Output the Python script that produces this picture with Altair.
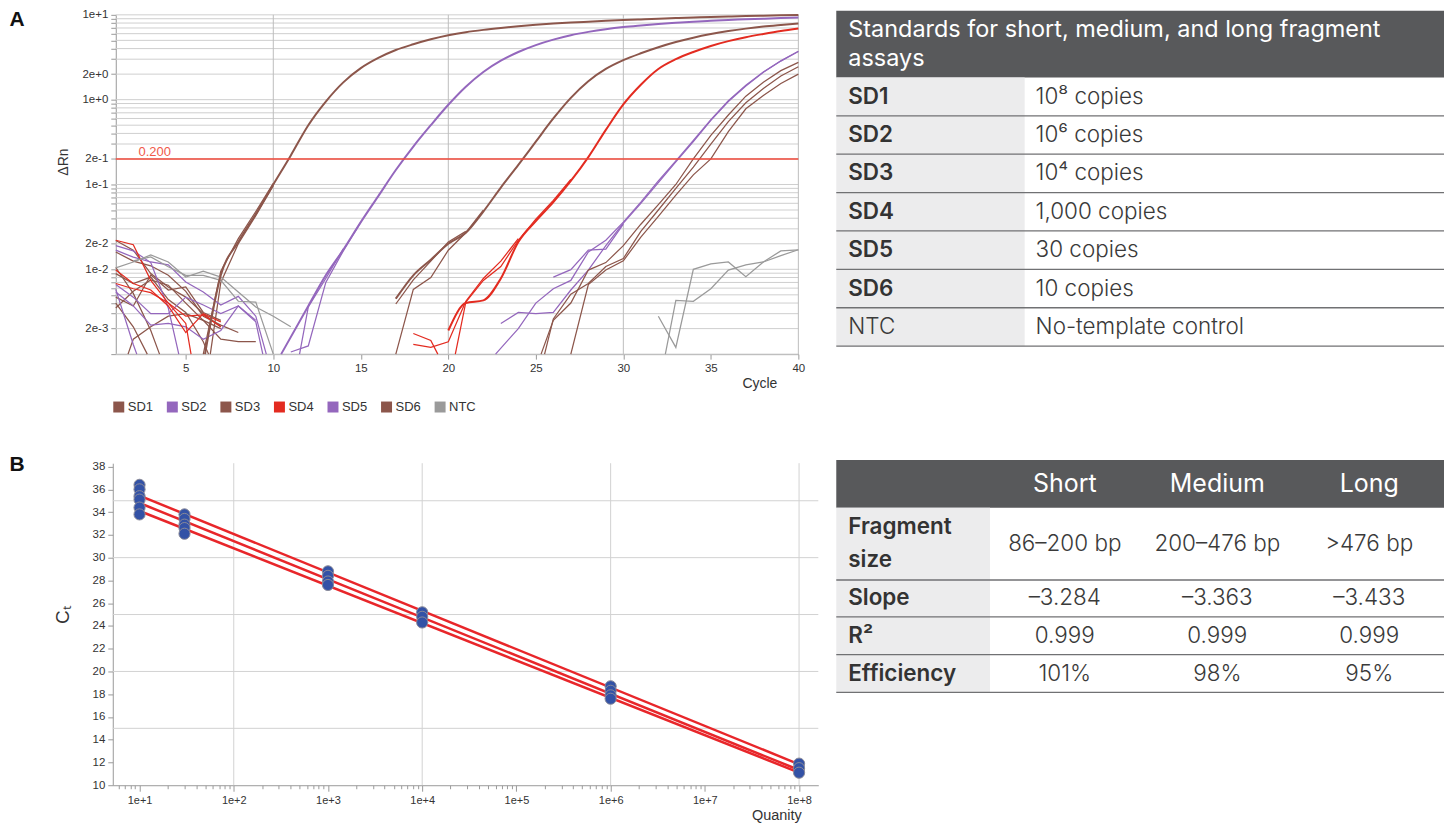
import altair as alt
import pandas as pd

W, H = 1440, 817
FONT = "Liberation Sans"
TFONT = "Inter"

# ------------------------------------------------------------------ data
SERIES = ["SD1", "SD2", "SD3", "SD4", "SD5", "SD6", "NTC"]
SERIES_COLORS = ["#8c564b", "#9467bd", "#8c564b", "#e32b20", "#9467bd", "#8c564b", "#9a9a9a"]
THRESHOLD = 0.2

# amplification curves, (cycle, delta Rn)
SD1_MAIN = [(6.1, 0.001), (7, 0.0085), (8, 0.021), (9, 0.045), (10, 0.1), (11, 0.22), (12, 0.5),
            (13, 0.95), (14, 1.6), (15, 2.35), (16, 3.1), (17, 3.85), (18, 4.5), (19, 5.15), (20, 5.75),
            (21, 6.25), (22, 6.65), (23, 7.0), (24, 7.32), (25, 7.62), (26, 7.88), (27, 8.1), (28, 8.3),
            (29, 8.5), (30, 8.68), (31, 8.84), (32, 9.0), (33, 9.15), (34, 9.3), (35, 9.44), (36, 9.56),
            (37, 9.67), (38, 9.77), (39, 9.87), (40, 9.95)]
SD1_B = [(6.0, 0.001), (7, 0.0095), (8, 0.023), (9, 0.048), (10, 0.103)]
SD1_C = [(6.4, 0.001), (7, 0.007), (8, 0.02), (9, 0.043), (10, 0.097)]
SD2_MAIN = [(10.45, 0.001), (12, 0.0037), (13, 0.0085), (14, 0.017), (15, 0.036), (16, 0.073), (17, 0.148),
            (18, 0.28), (19, 0.5), (20, 0.87), (21, 1.42), (22, 2.12), (23, 2.88), (24, 3.65), (25, 4.4),
            (26, 5.1), (27, 5.75), (28, 6.3), (29, 6.78), (30, 7.18), (31, 7.5), (32, 7.8), (33, 8.05),
            (34, 8.3), (35, 8.5), (36, 8.7), (37, 8.85), (38, 9.0), (39, 9.15), (40, 9.3)]
SD2_B = [(11.0, 0.00106), (12, 0.00125), (13, 0.007), (14, 0.0165), (15, 0.036)]
SD2_C = [(11.5, 0.001), (12, 0.0036), (13, 0.0078), (14, 0.0175)]
SD3_MAIN = [(17, 0.0045), (18, 0.0085), (19, 0.013), (20, 0.02), (21, 0.027), (22, 0.048), (23, 0.092),
            (24, 0.17), (25, 0.32), (26, 0.6), (27, 1.05), (28, 1.65), (29, 2.3), (30, 2.92), (31, 3.52),
            (32, 4.15), (33, 4.78), (34, 5.38), (35, 5.93), (36, 6.43), (37, 6.88), (38, 7.28), (39, 7.6), (40, 7.9)]
SD3_B = [(17, 0.0039), (18, 0.0075), (19, 0.0125), (20, 0.021), (21, 0.028)]
SD3_C = [(17, 0.001), (18, 0.0058), (19, 0.008), (20, 0.0168), (21, 0.027), (22, 0.05)]
SD4_MAIN = [(20, 0.0019), (21, 0.004), (22, 0.0043), (23, 0.0078), (24, 0.021), (25, 0.037), (26, 0.062),
            (27, 0.11), (28, 0.21), (29, 0.44), (30, 0.88), (31, 1.5), (32, 2.3), (33, 3.0), (34, 3.65),
            (35, 4.3), (36, 4.9), (37, 5.45), (38, 5.95), (39, 6.45), (40, 6.9)]
SD4_B = [(20.4, 0.001), (21, 0.0041), (22, 0.0074), (23, 0.0108), (24, 0.022), (25, 0.039), (26, 0.065), (27, 0.115)]
SD4_C = [(18, 0.0013), (19, 0.0012), (20, 0.0014), (21, 0.0042), (22, 0.0078), (23, 0.0125), (24, 0.023)]
SD4_D = [(18, 0.00175), (19, 0.00145), (19.4, 0.001)]
SD5_MAIN = [(23, 0.0023), (24, 0.0031), (25, 0.003), (26, 0.0031), (27, 0.0057), (28, 0.0098), (29, 0.019),
            (30, 0.035), (31, 0.06), (32, 0.105), (33, 0.185), (34, 0.32), (35, 0.57), (36, 0.95),
            (37, 1.45), (38, 2.1), (39, 2.85), (40, 3.7)]
SD5_B = [(22.7, 0.001), (24, 0.002), (25, 0.004), (26, 0.0059), (27, 0.0074), (28, 0.016), (29, 0.022),
         (30, 0.036), (31, 0.062), (32, 0.11), (33, 0.19), (34, 0.33), (35, 0.58), (36, 0.97), (37, 1.48),
         (38, 2.12), (39, 2.88), (40, 3.72)]
SD5_C = [(26, 0.0081), (27, 0.0099), (28, 0.0168), (29, 0.0173), (30, 0.034)]
SD6_A = [(25.3, 0.001), (26, 0.0025), (27, 0.004), (28, 0.0098), (29, 0.012), (30, 0.019), (31, 0.034),
         (32, 0.058), (33, 0.1), (34, 0.2), (35, 0.38), (36, 0.66), (37, 1.1), (38, 1.6), (39, 2.2), (40, 2.75)]
SD6_B = [(25.5, 0.001), (26, 0.0026), (27, 0.0051), (28, 0.0068), (29, 0.0108), (30, 0.0134), (31, 0.028),
         (32, 0.05), (33, 0.09), (34, 0.16), (35, 0.3), (36, 0.55), (37, 0.92), (38, 1.35), (39, 1.9), (40, 2.44)]
SD6_C = [(27, 0.001), (28, 0.0066), (29, 0.0098), (30, 0.0126), (31, 0.024), (32, 0.042), (33, 0.075),
         (34, 0.13), (35, 0.2), (36, 0.42), (37, 0.78), (38, 1.12), (39, 1.55), (40, 2.0)]
NTC_A = [(32, 0.0028), (33, 0.0012), (34, 0.01), (35, 0.0116), (36, 0.0122), (37, 0.0082), (38, 0.0122),
         (39, 0.0165), (40, 0.017)]
NTC_B = [(32.4, 0.001), (33, 0.0043), (34, 0.0042), (35, 0.0059), (36, 0.0098), (37, 0.0113), (38, 0.0122),
         (39, 0.0145), (40, 0.017)]

# baseline noise, early cycles
SD1_BASE1 = [(1, 0.0219), (2, 0.0168), (3, 0.0089), (4, 0.0062), (5, 0.0047), (6, 0.003), (7, 0.0021)]
SD1_BASE2 = [(1, 0.0105), (2, 0.0052), (3, 0.0019), (3.5, 0.001)]
SD1_BASE3 = [(1, 0.0035), (2, 0.0055), (3, 0.0075), (4, 0.0065), (5, 0.004), (6, 0.0025), (7, 0.002)]
SD3_BASE1 = [(1, 0.0089), (2, 0.0068), (3, 0.0081), (4, 0.0044), (5, 0.0031), (6, 0.0014), (6.3, 0.001)]
SD3_BASE2 = [(1, 0.0047), (2, 0.0037), (3, 0.0086), (4, 0.0057), (5, 0.0062), (6, 0.0031), (7, 0.0025)]
SD6_BASE1 = [(1.7, 0.001), (2, 0.0015), (3, 0.0021), (4, 0.0028), (5, 0.003), (6, 0.0025), (7, 0.0015),
             (8, 0.0014), (9, 0.0014)]
SD6_BASE2 = [(1, 0.016), (2, 0.0125), (3, 0.011), (4, 0.0085), (5, 0.0055), (6, 0.0028), (7, 0.0022), (8, 0.0018)]
SD6_BASE3 = [(1, 0.004), (2, 0.0021), (2.8, 0.001)]
SD2_BASE1 = [(1, 0.0168), (2, 0.0139), (3, 0.0122), (4, 0.0113), (5, 0.0071), (6, 0.0054), (7, 0.0038),
             (8, 0.0048), (9, 0.0028), (9.6, 0.001)]
SD2_BASE2 = [(1, 0.0066), (2, 0.0047), (3, 0.003), (4, 0.003), (5, 0.0047), (6, 0.0038), (7, 0.003),
             (8, 0.0037), (9, 0.0024), (9.4, 0.001)]
SD2_BASE3 = [(1, 0.0058), (2, 0.0013), (2.2, 0.001)]
SD5_BASE1 = [(1, 0.0054), (2, 0.0037), (3, 0.0022), (4, 0.0023), (5, 0.0021), (6, 0.0015), (7, 0.0019),
             (8, 0.0037), (9, 0.0025)]
SD5_BASE2 = [(1, 0.019), (2, 0.0165), (3, 0.012), (4, 0.0035), (4.6, 0.001)]
SD4_BASE1 = [(1, 0.022), (2, 0.0195), (3, 0.0074), (4, 0.004), (5, 0.0023), (5.3, 0.001)]
SD4_BASE2 = [(1, 0.0098), (2, 0.0068), (3, 0.0057), (4, 0.0037), (5, 0.0018), (6, 0.003), (7, 0.0024)]
SD4_BASE3 = [(1, 0.0068), (2, 0.0059), (3, 0.0053), (4, 0.004), (5, 0.0028), (6, 0.0029), (7, 0.0021)]
NTC_BASE1 = [(1, 0.0104), (2, 0.0122), (3, 0.0148), (4, 0.0122), (5, 0.0081), (6, 0.0095), (7, 0.0081),
             (8, 0.0054), (9, 0.0036), (10, 0.0028), (11, 0.0021)]
NTC_BASE2 = [(2, 0.0126), (3, 0.014), (4, 0.0107), (5, 0.0085), (6, 0.0085), (7, 0.0074), (8, 0.0042),
             (9, 0.0041), (10, 0.001)]

MAIN_CURVES = [("SD1", "SD1_MAIN", SD1_MAIN), ("SD2", "SD2_MAIN", SD2_MAIN), ("SD3", "SD3_MAIN", SD3_MAIN),
               ("SD4", "SD4_MAIN", SD4_MAIN)]
THIN_CURVES = [("SD1", "SD1_B", SD1_B), ("SD1", "SD1_C", SD1_C), ("SD2", "SD2_B", SD2_B), ("SD2", "SD2_C", SD2_C),
               ("SD3", "SD3_B", SD3_B), ("SD3", "SD3_C", SD3_C), ("SD4", "SD4_B", SD4_B), ("SD4", "SD4_C", SD4_C),
               ("SD4", "SD4_D", SD4_D), ("SD5", "SD5_MAIN", SD5_MAIN), ("SD5", "SD5_B", SD5_B),
               ("SD5", "SD5_C", SD5_C), ("SD6", "SD6_A", SD6_A), ("SD6", "SD6_B", SD6_B), ("SD6", "SD6_C", SD6_C),
               ("NTC", "NTC_A", NTC_A), ("NTC", "NTC_B", NTC_B),
               ("SD1", "SD1_BASE1", SD1_BASE1), ("SD1", "SD1_BASE2", SD1_BASE2), ("SD1", "SD1_BASE3", SD1_BASE3),
               ("SD3", "SD3_BASE1", SD3_BASE1), ("SD3", "SD3_BASE2", SD3_BASE2),
               ("SD6", "SD6_BASE1", SD6_BASE1), ("SD6", "SD6_BASE2", SD6_BASE2), ("SD6", "SD6_BASE3", SD6_BASE3),
               ("SD2", "SD2_BASE1", SD2_BASE1), ("SD2", "SD2_BASE2", SD2_BASE2), ("SD2", "SD2_BASE3", SD2_BASE3),
               ("SD5", "SD5_BASE1", SD5_BASE1), ("SD5", "SD5_BASE2", SD5_BASE2),
               ("SD4", "SD4_BASE1", SD4_BASE1), ("SD4", "SD4_BASE2", SD4_BASE2), ("SD4", "SD4_BASE3", SD4_BASE3),
               ("NTC", "NTC_BASE1", NTC_BASE1), ("NTC", "NTC_BASE2", NTC_BASE2)]

# standard curve
CT_AT_1E1 = [36.4, 36.0, 35.4, 35.1, 34.4, 33.8]
CT_AT_3E1 = [33.8, 33.4, 32.9, 32.6, 32.1]
CT_AT_1E3 = [28.8, 28.4, 27.9, 27.6]
CT_AT_1E4 = [25.2, 24.8, 24.3]
CT_AT_1E6 = [18.7, 18.3, 17.9, 17.6]
CT_AT_1E8 = [11.9, 11.5, 11.1]
QUANTITIES = [10, 30, 1000, 10000, 1000000, 100000000]
FIT_QTY = [10, 100000000]
FIT_1 = [35.45, 11.84]
FIT_2 = [34.8, 11.34]
FIT_3 = [34.1, 11.11]

# tables
STD_AMOUNTS = ["10\u2078 copies", "10\u2076 copies", "10\u2074 copies", "1,000 copies", "30 copies",
               "10 copies", "No-template control"]
TABLE_A_TITLE = ["Standards for short, medium, and long fragment", "assays"]
ASSAYS = ["Short", "Medium", "Long"]
ROW_NAMES_B = ["Fragment size", "Slope", "R\u00b2", "Efficiency"]
FRAGMENT_SIZE = ["86\u2013200 bp", "200\u2013476 bp", ">476 bp"]
SLOPE = ["\u20133.284", "\u20133.363", "\u20133.433"]
R_SQUARED = ["0.999", "0.999", "0.999"]
EFFICIENCY = ["101%", "98%", "95%"]

# ------------------------------------------------------------------ panel A
XA_SCALE = alt.Scale(type="linear", domain=[1, 40], range=[108, 792], nice=False, zero=False)
YA_SCALE = alt.Scale(type="log", domain=[0.001, 10], range=[346, 6], nice=False)
COLOR_SCALE = alt.Scale(domain=SERIES, range=SERIES_COLORS)

ya_ticks = sorted({round(k * 10.0 ** e, 12) for e in range(-3, 1) for k in range(1, 10)} | {10})
ya_labeled = [10, 2, 1, 0.2, 0.1, 0.02, 0.01, 0.002]
AX_COMMON = dict(labelFont=FONT, titleFont=FONT, labelColor="#333333", titleColor="#333333",
                 tickColor="#9a9a9a", domainColor="#9a9a9a", labelFlush=False, labelOverlap=False,
                 grid=False, titleFontWeight="normal", titleAlign="center", titleBaseline="middle")

XA_AXIS = alt.Axis(orient="bottom", offset=346 - H, values=list(range(5, 41, 5)), format="d", tickSize=5,
                   labelFontSize=11.5, labelPadding=3, title="Cycle", titleX=753, titleY=29.5,
                   titleFontSize=14, **AX_COMMON)
YA_AXIS = alt.Axis(orient="left", offset=-108, values=ya_ticks, format=".0e",
                   labelExpr="indexof(%s, datum.value) >= 0 ? datum.label : ''" % str(ya_labeled),
                   tickSize=5, labelFontSize=11.5, labelPadding=3, title="\u0394Rn", titleX=-52.5,
                   titleY=153, titleAngle=270, titleFontSize=14, **AX_COMMON)


def XA(f):
    return alt.X(f, type="quantitative", scale=XA_SCALE, axis=XA_AXIS)


def YA(f):
    return alt.Y(f, type="quantitative", scale=YA_SCALE, axis=YA_AXIS)


def curve_frame(curves):
    rows = []
    for series, name, pts in curves:
        for c, v in pts:
            rows.append({"series": series, "curve": name, "cycle": c, "drn": v})
    return pd.DataFrame(rows)


grid_a_h = pd.DataFrame({"v": ya_ticks, "x0": 1, "x1": 40})
grid_a_v = pd.DataFrame({"v": [10, 20, 30, 40], "y0": 0.001, "y1": 10})

layer_grid_ah = alt.Chart(grid_a_h).mark_rule(color="#cfcfcf", strokeWidth=1).encode(
    x=XA("x0"), x2="x1", y=YA("v"))
layer_grid_av = alt.Chart(grid_a_v).mark_rule(color="#bdbdbd", strokeWidth=1).encode(
    x=XA("v"), y=YA("y0"), y2="y1")
layer_thin = alt.Chart(curve_frame(THIN_CURVES)).mark_line(strokeWidth=1.25).encode(
    x=XA("cycle"), y=YA("drn"), color=alt.Color("series:N", scale=COLOR_SCALE, legend=None),
    detail="curve:N")
layer_main = alt.Chart(curve_frame(MAIN_CURVES)).mark_line(strokeWidth=2, interpolate="monotone").encode(
    x=XA("cycle"), y=YA("drn"), color=alt.Color("series:N", scale=COLOR_SCALE, legend=None),
    detail="curve:N")
thr_df = pd.DataFrame({"t": [THRESHOLD], "x0": [1], "x1": [40], "lx": [2.3], "label": ["%.3f" % THRESHOLD]})
layer_thr = alt.Chart(thr_df).mark_rule(color="#f0483a", strokeWidth=1.5).encode(
    x=XA("x0"), x2="x1", y=YA("t"))
layer_thr_lab = alt.Chart(thr_df).mark_text(align="left", baseline="middle", dy=-7, color="#f05a4a",
                                            fontSize=13, font=FONT).encode(
    x=XA("lx"), y=YA("t"), text="label")
panel_a = alt.layer(layer_grid_ah, layer_grid_av, layer_thin, layer_main, layer_thr, layer_thr_lab)

# legend for panel A
LEG_SCALE = alt.Scale(type="point", domain=SERIES, range=[111, 433], padding=0)
leg_df = pd.DataFrame({"series": SERIES})
legend_sq = alt.Chart(leg_df).mark_square(size=121, opacity=1).encode(
    x=alt.X("series:N", scale=LEG_SCALE, axis=None), y=alt.value(399),
    color=alt.Color("series:N", scale=COLOR_SCALE, legend=None))
legend_tx = alt.Chart(leg_df).mark_text(align="left", baseline="middle", dx=9, fontSize=13, font=FONT,
                                        color="#333333").encode(
    x=alt.X("series:N", scale=LEG_SCALE, axis=None), y=alt.value(399), text="series:N")
legend_a = alt.layer(legend_sq, legend_tx)

# ------------------------------------------------------------------ panel B
XB_SCALE = alt.Scale(type="log", domain=[5.2, 1.6e8], range=[105, 812], nice=False)
YB_SCALE = alt.Scale(type="linear", domain=[10, 38.3], range=[778, 455.3], nice=False, zero=False)
xb_values = [k * 10 ** e for e in range(0, 9) for k in range(1, 10) if 5.2 <= k * 10 ** e <= 1.6e8]
decade_test = "abs(log(datum.value)/LN10 - round(log(datum.value)/LN10)) < 1e-6"
XB_AXIS = alt.Axis(orient="bottom", offset=778 - H, values=xb_values, format=".0e",
                   labelExpr="%s ? datum.label : ''" % decade_test,
                   tickSize={"condition": {"test": decade_test, "value": 6}, "value": 3.5},
                   labelFontSize=11, labelPadding=3, title="Quanity", titleX=770, titleY=30.5,
                   titleFontSize=14.5, **AX_COMMON)
YB_AXIS = alt.Axis(orient="left", offset=-105, values=list(range(10, 39, 2)), format="d", tickSize=5,
                   labelFontSize=11.5, labelPadding=3, title="C\u209c", titleX=-50, titleY=607,
                   titleAngle=270, titleFontSize=19, **AX_COMMON)


def XB(f):
    return alt.X(f, type="quantitative", scale=XB_SCALE, axis=XB_AXIS)


def YB(f):
    return alt.Y(f, type="quantitative", scale=YB_SCALE, axis=YB_AXIS)


grid_b_h = pd.DataFrame({"v": [15, 20, 25, 30, 35], "x0": 5.2, "x1": 1.6e8})
grid_b_v = pd.DataFrame({"v": [100, 10000, 1000000, 100000000], "y0": 10, "y1": 38.3})
ct_lists = [CT_AT_1E1, CT_AT_3E1, CT_AT_1E3, CT_AT_1E4, CT_AT_1E6, CT_AT_1E8]
pts_df = pd.DataFrame([{"qty": q, "ct": c} for q, cts in zip(QUANTITIES, ct_lists) for c in cts])
fit_df = pd.DataFrame([{"fit": name, "qty": q, "ct": c}
                       for name, vals in [("fit1", FIT_1), ("fit2", FIT_2), ("fit3", FIT_3)]
                       for q, c in zip(FIT_QTY, vals)])

layer_grid_bh = alt.Chart(grid_b_h).mark_rule(color="#d2d2d2", strokeWidth=1).encode(
    x=XB("x0"), x2="x1", y=YB("v"))
layer_grid_bv = alt.Chart(grid_b_v).mark_rule(color="#d2d2d2", strokeWidth=1).encode(
    x=XB("v"), y=YB("y0"), y2="y1")
layer_fit = alt.Chart(fit_df).mark_line(color="#e8262a", strokeWidth=2.5).encode(
    x=XB("qty"), y=YB("ct"), detail="fit:N")
layer_pts = alt.Chart(pts_df).mark_circle(size=125, color="#3352a6", opacity=1, stroke="#8a8a98",
                                          strokeWidth=1).encode(x=XB("qty"), y=YB("ct"))
panel_b = alt.layer(layer_grid_bh, layer_grid_bv, layer_fit, layer_pts)

# ------------------------------------------------------------------ tables
HEAD_BG = "#58595b"
COL_BG = "#ececed"
RULE_C = "#707173"
TXT_C = "#333333"
VAL_C = "#3a3a3a"

# Table A: rows measured in units of one body row
TA_X = alt.Scale(domain=[0, 1], range=[830, 1439])
TA_HEAD = 1.734
n_a = len(SERIES)
TA_Y = alt.Scale(domain=[0, TA_HEAD + n_a], range=[2, 338])


def tax(f):
    return alt.X(f, type="quantitative", scale=TA_X, axis=None)


def tay(f):
    return alt.Y(f, type="quantitative", scale=TA_Y, axis=None)


ta_head = pd.DataFrame({"x0": [0], "x1": [1], "y0": [0], "y1": [TA_HEAD]})
ta_col = pd.DataFrame({"x0": [0], "x1": [0.31], "y0": [TA_HEAD], "y1": [TA_HEAD + n_a]})
ta_rules = pd.DataFrame({"y": [TA_HEAD + i + 1 for i in range(n_a)], "x0": 0, "x1": 1})
ta_title = pd.DataFrame({"text": TABLE_A_TITLE, "y": [0.494, 1.248], "x": 0.0197})
ta_cells = pd.DataFrame({"name": SERIES, "amount": STD_AMOUNTS,
                         "y": [TA_HEAD + i + 0.5 for i in range(n_a)], "x": 0.0197, "x2": 0.328})
ta_bold = ta_cells[ta_cells["name"].str.startswith("SD")]
ta_plain = ta_cells[~ta_cells["name"].str.startswith("SD")]

table_a = alt.layer(
    alt.Chart(ta_head).mark_rect(color=HEAD_BG).encode(x=tax("x0"), x2="x1", y=tay("y0"), y2="y1"),
    alt.Chart(ta_col).mark_rect(color=COL_BG).encode(x=tax("x0"), x2="x1", y=tay("y0"), y2="y1"),
    alt.Chart(ta_rules).mark_rule(color=RULE_C, strokeWidth=1.3).encode(x=tax("x0"), x2="x1", y=tay("y")),
    alt.Chart(ta_title).mark_text(align="left", baseline="middle", color="white", fontSize=23.5,
                                  font=TFONT).encode(x=tax("x"), y=tay("y"), text="text"),
    alt.Chart(ta_bold).mark_text(align="left", baseline="middle", color=TXT_C, fontSize=22.5, font=TFONT,
                                 fontWeight=600).encode(x=tax("x"), y=tay("y"), text="name"),
    alt.Chart(ta_plain).mark_text(align="left", baseline="middle", color=VAL_C, fontSize=22.5, font=TFONT,
                                  fontWeight=300).encode(x=tax("x"), y=tay("y"), text="name"),
    alt.Chart(ta_cells).mark_text(align="left", baseline="middle", color=VAL_C, fontSize=22.5, font=TFONT,
                                  fontWeight=300).encode(x=tax("x2"), y=tay("y"), text="amount"),
)

# Table B
TB_X = alt.Scale(domain=[0, 1], range=[830, 1439])
TB_ROW_H = [1.265, 1.918, 0.98, 1.0, 1.0]
edges = [0.0]
for h in TB_ROW_H:
    edges.append(edges[-1] + h)
TB_Y = alt.Scale(domain=[0, edges[-1]], range=[452, 685])
COL_CENTERS = [0.376, 0.627, 0.877]


def tbx(f):
    return alt.X(f, type="quantitative", scale=TB_X, axis=None)


def tby(f):
    return alt.Y(f, type="quantitative", scale=TB_Y, axis=None)


tb_head = pd.DataFrame({"x0": [0], "x1": [1], "y0": [0], "y1": [edges[1]]})
tb_col = pd.DataFrame({"x0": [0], "x1": [0.2529], "y0": [edges[1]], "y1": [edges[-1]]})
tb_rules = pd.DataFrame({"y": edges[2:], "x0": 0, "x1": 1})
tb_head_txt = pd.DataFrame({"text": ASSAYS, "x": COL_CENTERS, "y": edges[0] + TB_ROW_H[0] / 2})
label_rows = []
for i, name in enumerate(ROW_NAMES_B):
    top, bot = edges[i + 1], edges[i + 2]
    words = name.split(" ") if TB_ROW_H[i + 1] > 1.5 else [name]
    for j, w in enumerate(words):
        label_rows.append({"text": w, "x": 0.0197,
                           "y": (top + bot) / 2 + (j - (len(words) - 1) / 2) * 0.875})
tb_labels = pd.DataFrame(label_rows)
value_rows = []
for i, vals in enumerate([FRAGMENT_SIZE, SLOPE, R_SQUARED, EFFICIENCY]):
    for c, v in zip(COL_CENTERS, vals):
        value_rows.append({"text": v, "x": c, "y": (edges[i + 1] + edges[i + 2]) / 2})
tb_values = pd.DataFrame(value_rows)

table_b = alt.layer(
    alt.Chart(tb_head).mark_rect(color=HEAD_BG).encode(x=tbx("x0"), x2="x1", y=tby("y0"), y2="y1"),
    alt.Chart(tb_col).mark_rect(color=COL_BG).encode(x=tbx("x0"), x2="x1", y=tby("y0"), y2="y1"),
    alt.Chart(tb_rules).mark_rule(color=RULE_C, strokeWidth=1.3).encode(x=tbx("x0"), x2="x1", y=tby("y")),
    alt.Chart(tb_head_txt).mark_text(align="center", baseline="middle", color="white", fontSize=25,
                                     font=TFONT).encode(x=tbx("x"), y=tby("y"), text="text"),
    alt.Chart(tb_labels).mark_text(align="left", baseline="middle", color=TXT_C, fontSize=22.5, font=TFONT,
                                   fontWeight=600).encode(x=tbx("x"), y=tby("y"), text="text"),
    alt.Chart(tb_values).mark_text(align="center", baseline="middle", color=VAL_C, fontSize=22.5,
                                   font=TFONT, fontWeight=300).encode(x=tbx("x"), y=tby("y"), text="text"),
)

# panel letters
letters_df = pd.DataFrame({"t": ["A"]})
letter_a = alt.Chart(letters_df).mark_text(align="center", baseline="middle", fontSize=21, fontWeight="bold",
                                           font=FONT, color="#111111").encode(
    x=alt.value(9), y=alt.value(11.5), text=alt.value("A"))
letter_b = alt.Chart(letters_df).mark_text(align="center", baseline="middle", fontSize=21, fontWeight="bold",
                                           font=FONT, color="#111111").encode(
    x=alt.value(9), y=alt.value(457.5), text=alt.value("B"))

chart = alt.layer(panel_a, legend_a, panel_b, table_a, table_b, letter_a, letter_b).resolve_scale(
    x="independent", y="independent", color="independent"
).properties(
    width=W, height=H, padding=0, autosize=alt.AutoSizeParams(type="none")
).configure_view(strokeWidth=0)

chart.save("out.html", embed_options={"renderer": "svg", "actions": False})
